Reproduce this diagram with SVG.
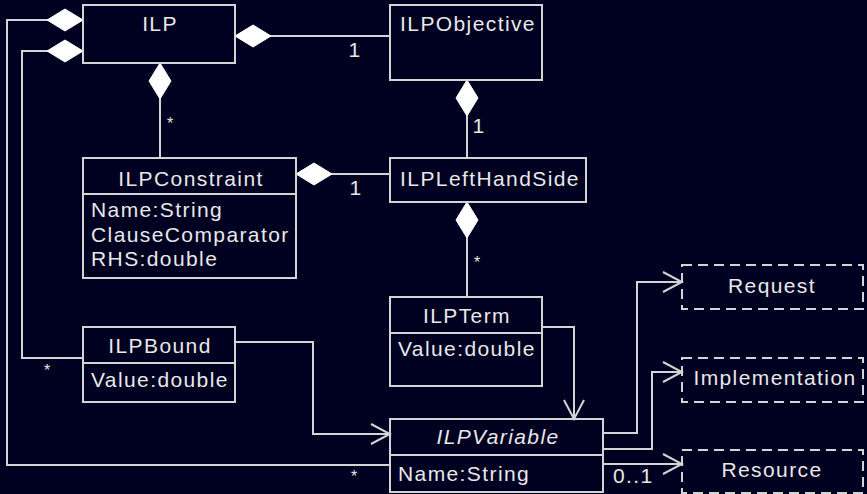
<svg xmlns="http://www.w3.org/2000/svg" width="867" height="494" viewBox="0 0 867 494">
<style>
.bg{fill:#000020}
.box{fill:none;stroke:#d4d4d4;stroke-width:2}
.dash{fill:none;stroke:#d4d4d4;stroke-width:2;stroke-dasharray:10 6}
.ln{fill:none;stroke:#d4d4d4;stroke-width:2}
text{font-family:"Liberation Sans",Arial,sans-serif;font-size:21px;fill:#e8e8e8;letter-spacing:1.4px}
.c{text-anchor:middle}
.it{font-style:italic}
.star{font-size:16px;letter-spacing:0}
</style>
<defs>
<marker id="dia" markerUnits="userSpaceOnUse" markerWidth="40" markerHeight="26" viewBox="-2 -13 40 26" refX="0" refY="0" orient="auto">
<path d="M0,0 L18,-11 L36,0 L18,11 Z" fill="#ffffff" stroke="#ffffff" stroke-width="1"/>
</marker>
<marker id="arr" markerUnits="userSpaceOnUse" markerWidth="24" markerHeight="26" viewBox="-22 -13 24 26" refX="0" refY="0" orient="auto">
<path d="M-19,-10 L0,0 L-19,10" fill="none" stroke="#d4d4d4" stroke-width="2"/>
</marker>
</defs>
<rect class="bg" x="0" y="0" width="867" height="494"/>

<g id="connectors">
<path class="ln" d="M83,20 L7,20 L7,465 L390,465" marker-start="url(#dia)"/>
<path class="ln" d="M83,51 L22,51 L22,358 L83,358" marker-start="url(#dia)"/>
<path class="ln" d="M235,36 L390,36" marker-start="url(#dia)"/>
<path class="ln" d="M160,63 L160,158" marker-start="url(#dia)"/>
<path class="ln" d="M467,80 L467,158" marker-start="url(#dia)"/>
<path class="ln" d="M296,174 L390,174" marker-start="url(#dia)"/>
<path class="ln" d="M467,202 L467,297" marker-start="url(#dia)"/>
<path class="ln" d="M542,327 L574,327 L574,419" marker-end="url(#arr)"/>
<path class="ln" d="M235,342 L313,342 L313,434 L390,434" marker-end="url(#arr)"/>
<path class="ln" d="M603,433 L637,433 L637,282 L682,282" marker-end="url(#arr)"/>
<path class="ln" d="M603,449 L652,449 L652,372 L682,372" marker-end="url(#arr)"/>
<path class="ln" d="M603,464 L682,464" marker-end="url(#arr)"/>
<text x="355" y="57" class="c">1</text>
<text x="479" y="133" class="c">1</text>
<text x="356" y="195" class="c">1</text>
<text x="170" y="129" class="c star">*</text>
<text x="477" y="268" class="c star">*</text>
<text x="47" y="376" class="c star">*</text>
<text x="354" y="482" class="c star">*</text>
<text x="613" y="483">0..1</text>
</g>

<g id="ILP">
<rect class="box" x="83" y="5" width="152" height="58"/>
<text x="160" y="31" class="c">ILP</text>
</g>

<g id="ILPObjective">
<rect class="box" x="390" y="5" width="152" height="75"/>
<text x="468" y="31" class="c">ILPObjective</text>
</g>

<g id="ILPConstraint">
<rect class="box" x="83" y="158" width="213" height="120"/>
<line class="box" x1="83" y1="194" x2="296" y2="194"/>
<text x="191" y="186" class="c">ILPConstraint</text>
<text x="91" y="217">Name:String</text>
<text x="91" y="242">ClauseComparator</text>
<text x="91" y="266">RHS:double</text>
</g>

<g id="ILPLeftHandSide">
<rect class="box" x="390" y="158" width="196" height="44"/>
<text x="490" y="186" class="c">ILPLeftHandSide</text>
</g>

<g id="ILPTerm">
<rect class="box" x="390" y="297" width="152" height="89"/>
<line class="box" x1="390" y1="333" x2="542" y2="333"/>
<text x="467" y="323" class="c">ILPTerm</text>
<text x="398" y="356">Value:double</text>
</g>

<g id="ILPBound">
<rect class="box" x="83" y="327" width="152" height="75"/>
<line class="box" x1="83" y1="363" x2="235" y2="363"/>
<text x="160" y="353" class="c">ILPBound</text>
<text x="91" y="387">Value:double</text>
</g>

<g id="ILPVariable">
<rect class="box" x="390" y="419" width="213" height="73"/>
<line class="box" x1="390" y1="455" x2="603" y2="455"/>
<text x="498" y="444" class="c it">ILPVariable</text>
<text x="398" y="481">Name:String</text>
</g>

<g id="Request">
<rect class="dash" x="682" y="265" width="181" height="44"/>
<text x="772" y="293" class="c">Request</text>
</g>

<g id="Implementation">
<rect class="dash" x="682" y="358" width="181" height="44"/>
<text x="775" y="385" class="c">Implementation</text>
</g>

<g id="Resource">
<rect class="dash" x="682" y="450" width="181" height="43"/>
<text x="772" y="477" class="c">Resource</text>
</g>
</svg>
